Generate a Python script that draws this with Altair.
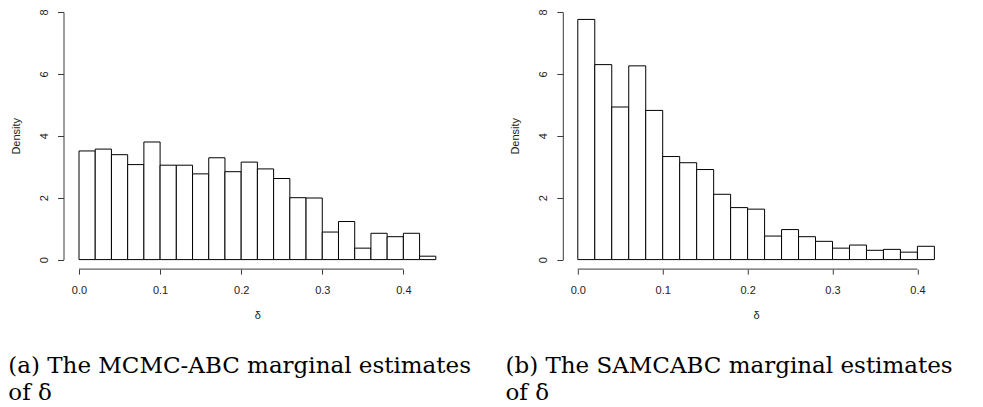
import altair as alt
import pandas as pd

# ---- data ----
bin_width = 0.02
mcmc_density = [3.51, 3.57, 3.39, 3.07, 3.80, 3.05, 3.05, 2.77, 3.29, 2.84, 3.15,
                2.93, 2.62, 2.00, 1.99, 0.89, 1.23, 0.37, 0.85, 0.74, 0.85, 0.11]
samc_density = [7.76, 6.30, 4.93, 6.26, 4.82, 3.33, 3.13, 2.91, 2.11, 1.68, 1.63,
                0.76, 0.97, 0.74, 0.59, 0.37, 0.47, 0.30, 0.33, 0.24, 0.43]
x_ticks = [0.0, 0.1, 0.2, 0.3, 0.4]
y_ticks = [0, 2, 4, 6, 8]
caption_a = ["(a) The MCMC-ABC marginal estimates", "of δ"]
caption_b = ["(b) The SAMCABC marginal estimates", "of δ"]
x_title = "δ"
y_title = "Density"

H = 247.6
AXIS_COL = "#3a3a3a"
TEXT_COL = "#222222"


def panel(values, width, caption, cap_dx, y_offset):
    n = len(values)
    df = pd.DataFrame({
        "x0": [round(i * bin_width, 4) for i in range(n)],
        "x1": [round((i + 1) * bin_width, 4) for i in range(n)],
        "d": values,
    })
    xmax = round(n * bin_width, 4)
    xs = alt.Scale(domain=[0, xmax], nice=False, zero=False)
    ys = alt.Scale(domain=[0, 8], nice=False)
    x_axis = alt.Axis(values=x_ticks, format=".1f", title=x_title, domain=False,
                      offset=9.5, tickSize=5, labelPadding=10, titlePadding=14,
                      grid=False, labelFlush=False)
    bars = alt.Chart(df).mark_rect(fill="white", stroke="black", strokeWidth=1).encode(
        x=alt.X("x0:Q", scale=xs, axis=x_axis),
        x2="x1:Q",
        y=alt.Y("d:Q", scale=ys,
                axis=alt.Axis(values=y_ticks, format="d", title=y_title, offset=y_offset,
                              tickSize=6, labelAngle=-90, labelAlign="center",
                              labelBaseline="bottom", labelPadding=8, titlePadding=17,
                              grid=False, labelFlush=False)),
        y2=alt.datum(0),
    )
    axis_line = alt.Chart(pd.DataFrame({"a": [x_ticks[0]], "b": [x_ticks[-1]]})).mark_rule(
        color=AXIS_COL, strokeWidth=1
    ).encode(
        x=alt.X("a:Q", scale=xs, axis=x_axis),
        x2="b:Q",
        y=alt.value(H + 9.5),
    )
    return alt.layer(bars, axis_line).properties(
        width=width, height=H,
        title=alt.TitleParams(
            text=caption, orient="bottom", anchor="start", frame="group",
            dx=cap_dx, offset=35, font="DejaVu Serif", fontSize=23,
            fontWeight="normal", lineHeight=26.5, color="black", baseline="top",
        ),
    )


left = panel(mcmc_density, 356.8, caption_a, -70.7, 15.5)
right = panel(samc_density, 356.6, caption_b, -72.3, 15.0)

chart = alt.hconcat(left, right, spacing=141.8, bounds="flush").properties(
    padding=0
).configure_view(stroke=None).configure_axis(
    labelFont="Liberation Sans", labelFontSize=11, labelColor=TEXT_COL,
    titleFont="Liberation Sans", titleFontSize=11, titleColor=TEXT_COL,
    titleFontWeight="normal", domainColor=AXIS_COL, tickColor=AXIS_COL,
    domainWidth=1, tickWidth=1,
)

chart.save("out.html", embed_options={"renderer": "svg", "actions": False})
